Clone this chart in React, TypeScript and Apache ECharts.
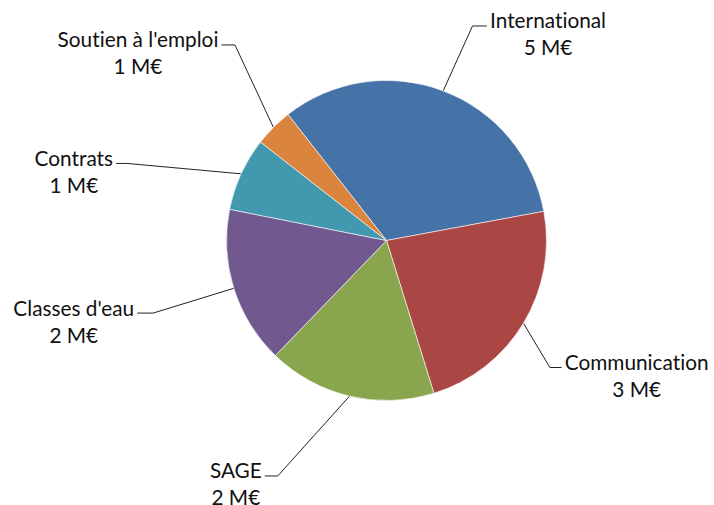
import React, { useEffect, useRef } from "react";
import * as echarts from "echarts";

// ---- data ----
const categories = [
  "International",
  "Communication",
  "SAGE",
  "Classes d'eau",
  "Contrats",
  "Soutien à l'emploi",
];
const values = [4.7, 3.33, 2.45, 2.29, 1.07, 0.56]; // M€
const unit = "M€";

// ---- styles ----
const colors = ["#4572A7", "#AA4643", "#89A54E", "#71588F", "#4198AF", "#DB843D"];
const FONT = "Lato, 'Noto Sans', sans-serif";

// leader-line shape for each label: bend offset from the slice edge point, then horizontal run
const leader = [
  { bx: 29.3, by: -64.9, run: 14.4 },
  { bx: 26.4, by: 44.3, run: 11.7 },
  { bx: -71.7, by: 79.8, run: -13 },
  { bx: -80.6, by: 24.8, run: -16 },
  { bx: -114, by: -10.4, run: -11 },
  { bx: -38.4, by: -82.4, run: -13.4 },
];

export default function App() {
  const ref = useRef<HTMLDivElement>(null);

  useEffect(() => {
    if (!ref.current) return;
    const chart = echarts.init(ref.current, undefined, { renderer: "svg" });
    const option: any = {
      animation: false,
      backgroundColor: "#ffffff",
      series: [
        {
          type: "pie",
          center: [386.5, 240.5],
          radius: 160,
          startAngle: 128,
          clockwise: true,
          avoidLabelOverlap: false,
          data: categories.map((name, i) => ({
            name,
            value: values[i],
            itemStyle: { color: colors[i] },
          })),
          itemStyle: { borderColor: "#ffffff", borderWidth: 0.6 },
          label: {
            show: true,
            position: "outside",
            formatter: (p: any) => `{c|${p.name}}\n{c|${Math.round(p.value)} ${unit}}`,
            rich: {
              c: {
                align: "center",
                fontFamily: FONT,
                fontSize: 20.8,
                lineHeight: 27,
                color: "#111111",
              },
            },
          },
          labelLine: {
            show: true,
            length: 20,
            length2: 10,
            smooth: false,
            lineStyle: { color: "#222222", width: 1 },
          },
          labelLayout: (params: any) => {
            const i = params.dataIndex;
            const pts = params.labelLinePoints;
            if (!pts || !pts[0]) return {};
            const e = pts[0];
            const L = leader[i];
            const cx = e[0] + L.bx;
            const cy = e[1] + L.by;
            const hx = cx + L.run;
            const right = L.run > 0;
            return {
              x: right ? hx + 3 : hx - 3,
              y: cy - 19.5,
              align: right ? "left" : "right",
              verticalAlign: "top",
              labelLinePoints: [
                [e[0], e[1]],
                [cx, cy],
                [hx, cy],
              ],
            };
          },
          emphasis: { disabled: true },
        },
      ],
    };
    chart.setOption(option);
    return () => chart.dispose();
  }, []);

  return (
    <>
      <style>{"svg text { font-variant-ligatures: none; font-feature-settings: 'liga' 0, 'clig' 0; }"}</style>
      <div
        ref={ref}
        style={{ position: "absolute", left: 0, top: 0, width: 714, height: 505, background: "#fff" }}
      />
    </>
  );
}
